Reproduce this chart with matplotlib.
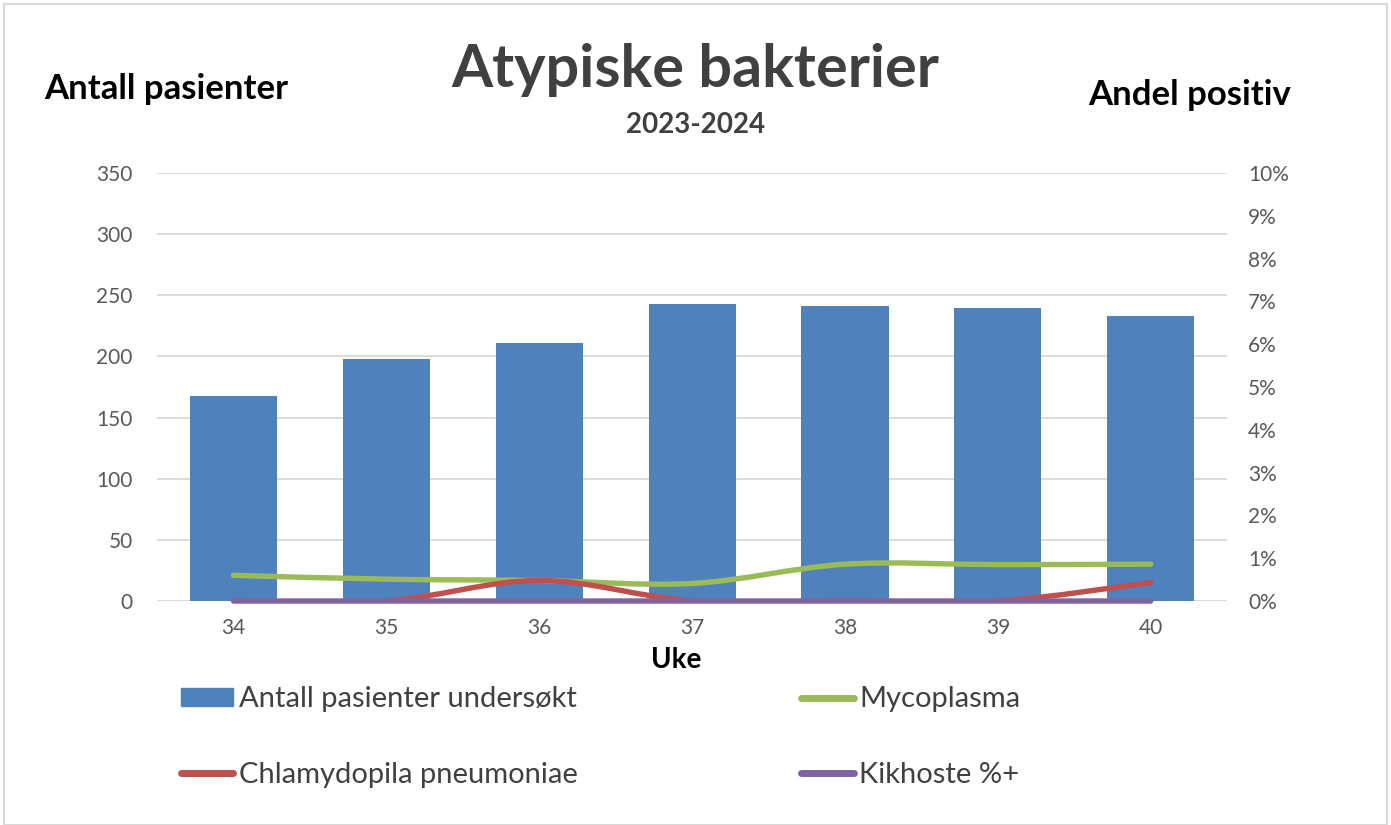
import matplotlib.pyplot as plt
import numpy as np
from matplotlib.path import Path
from matplotlib.patches import PathPatch, Rectangle
from matplotlib.lines import Line2D
from matplotlib.ticker import PercentFormatter

plt.rcParams["font.family"] = ["Lato", "DejaVu Sans"]

weeks = ["34", "35", "36", "37", "38", "39", "40"]
patients = [168, 198, 211, 243, 241, 240, 233]
mycoplasma = [0.0060, 0.0051, 0.0048, 0.0041, 0.0086, 0.0085, 0.0086]
chlamydia = [0.0, 0.0, 0.0048, 0.0, 0.0, 0.0, 0.0043]
kikhoste = [0.0, 0.0, 0.0, 0.0, 0.0, 0.0, 0.0]

BLUE = "#4F81BD"
GREEN = "#9BBB59"
RED = "#C0504D"
PURPLE = "#8064A2"
TICK = "#595959"


def smooth_path(xs, ys):
    """Excel-style smoothed line: Catmull-Rom segments as cubic Beziers."""
    pts = np.column_stack([xs, ys]).astype(float)
    verts = [pts[0]]
    codes = [Path.MOVETO]
    n = len(pts)
    for i in range(n - 1):
        p0 = pts[max(i - 1, 0)]
        p1 = pts[i]
        p2 = pts[i + 1]
        p3 = pts[min(i + 2, n - 1)]
        c1 = p1 + (p2 - p0) / 6
        c2 = p2 - (p3 - p1) / 6
        verts += [c1, c2, p2]
        codes += [Path.CURVE4] * 3
    return Path(verts, codes)


fig = plt.figure(figsize=(13.91, 8.25), dpi=100)
fig.patches.append(Rectangle((0.003, 0.0), 0.994, 0.995, transform=fig.transFigure,
                             fill=False, edgecolor="#D9D9D9", linewidth=1.5))

ax = fig.add_axes([0.1129, 0.2715, 0.7693, 0.5188])
x = np.arange(len(weeks))
ax.bar(x, patients, width=0.57, color=BLUE, zorder=2)
ax.set_xlim(-0.5, len(weeks) - 0.5)
ax.set_ylim(0, 350)
ax.set_yticks(np.arange(0, 351, 50))
ax.set_xticks(x)
ax.set_xticklabels(weeks)
ax.grid(axis="y", color="#D9D9D9", linewidth=1.3)
ax.set_axisbelow(True)
for s in ax.spines.values():
    s.set_visible(False)
ax.tick_params(length=0, labelsize=15, labelcolor=TICK, pad=17.5)
ax.tick_params(axis="x", pad=12)

ax2 = ax.twinx()
ax2.set_ylim(0, 0.10)
ax2.set_yticks(np.arange(0, 0.101, 0.01))
ax2.yaxis.set_major_formatter(PercentFormatter(1.0, decimals=0))
for s in ax2.spines.values():
    s.set_visible(False)
ax2.tick_params(length=0, labelsize=15, labelcolor=TICK, pad=15)

for ys, col, clip in [(mycoplasma, GREEN, True), (chlamydia, RED, True),
                      (kikhoste, PURPLE, False)]:
    patch = PathPatch(smooth_path(x, ys), facecolor="none", edgecolor=col,
                      linewidth=3.9, capstyle="round", clip_on=clip, zorder=3)
    ax2.add_patch(patch)

fig.text(0.5, 0.915, "Atypiske bakterier", ha="center", va="center",
         fontsize=42.7, fontweight="bold", color="#404040")
fig.text(0.5, 0.848, "2023-2024", ha="center", va="center",
         fontsize=20, fontweight="bold", color="#404040")
fig.text(0.032, 0.892, "Antall pasienter", ha="left", va="center",
         fontsize=25, fontweight="bold", color="black")
fig.text(0.928, 0.885, "Andel positiv", ha="right", va="center",
         fontsize=25, fontweight="bold", color="black")
fig.text(676 / 1391, 1 - 660 / 825, "Uke", ha="center", va="center",
         fontsize=20, fontweight="bold", color="black")

handles = [
    Rectangle((0, 0), 1, 1, color=BLUE),
    Line2D([], [], color=RED, linewidth=5, solid_capstyle="round"),
    Line2D([], [], color=GREEN, linewidth=5, solid_capstyle="round"),
    Line2D([], [], color=PURPLE, linewidth=5, solid_capstyle="round"),
]
labels = ["Antall pasienter undersøkt", "Chlamydopila pneumoniae",
          "Mycoplasma", "Kikhoste %+"]
fig.legend(handles, labels, loc="upper left", bbox_to_anchor=(0.130, 0.168),
           ncol=2, frameon=False, fontsize=21, labelcolor="#404040",
           handlelength=1.8, handleheight=0.6, handletextpad=0.2,
           labelspacing=1.69, columnspacing=7.65, borderpad=0, borderaxespad=0)

fig.savefig("out.png", dpi=100)
